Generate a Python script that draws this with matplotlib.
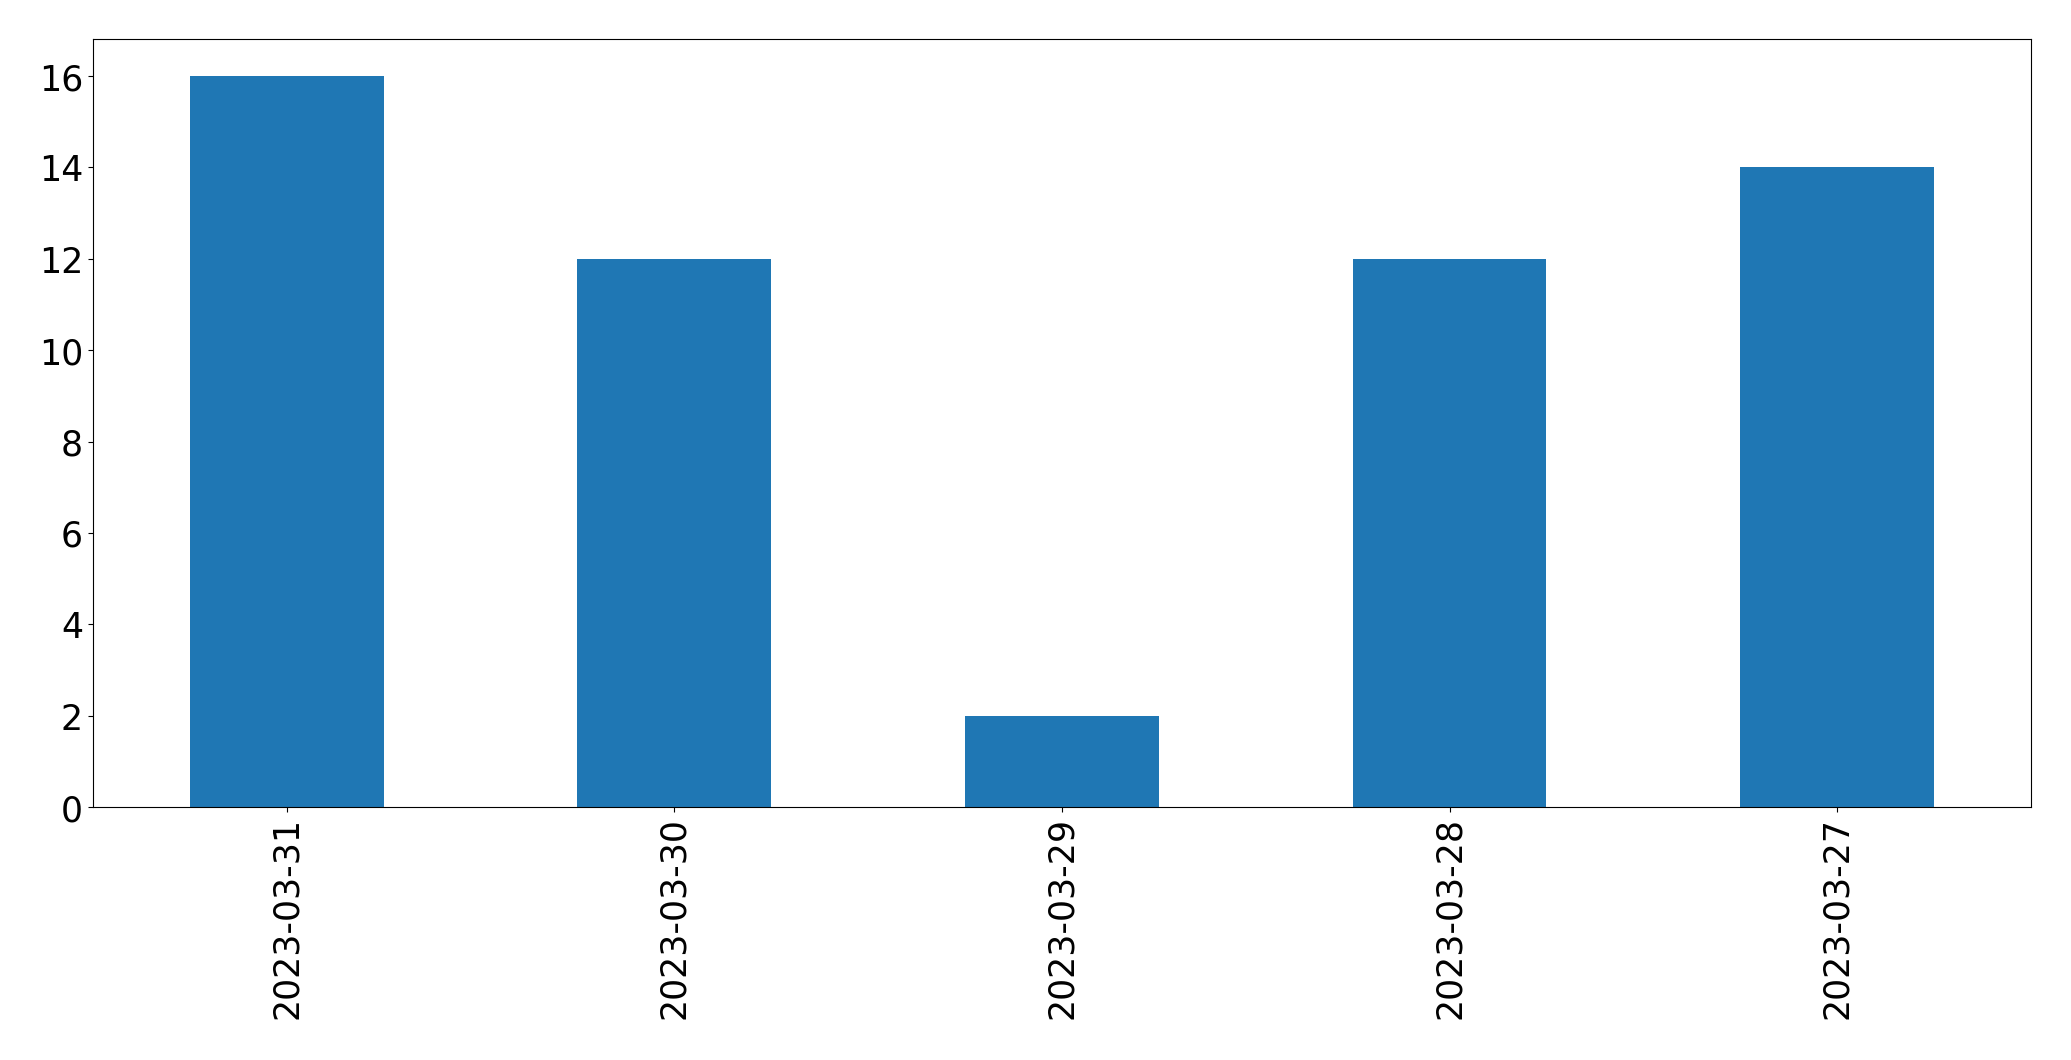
import matplotlib
matplotlib.use("Agg")
import matplotlib.pyplot as plt

# --- Data ---
dates = ["2023-03-31", "2023-03-30", "2023-03-29", "2023-03-28", "2023-03-27"]
counts = [16, 12, 2, 12, 14]

fig = plt.figure(figsize=(20.71, 10.605), dpi=100)
ax = fig.add_axes([0.0448, 0.2385, 0.9359, 0.7238])

x = range(len(dates))
ax.bar(x, counts, width=0.5, color="#1f77b4")
ax.set_xlim(-0.5, len(dates) - 0.5)
ax.set_ylim(0, max(counts) * 1.05)
ax.set_xticks(list(x))
ax.set_xticklabels(dates, rotation=90)
ax.tick_params(axis="both", labelsize=25)

fig.savefig("out.png", dpi=100)
